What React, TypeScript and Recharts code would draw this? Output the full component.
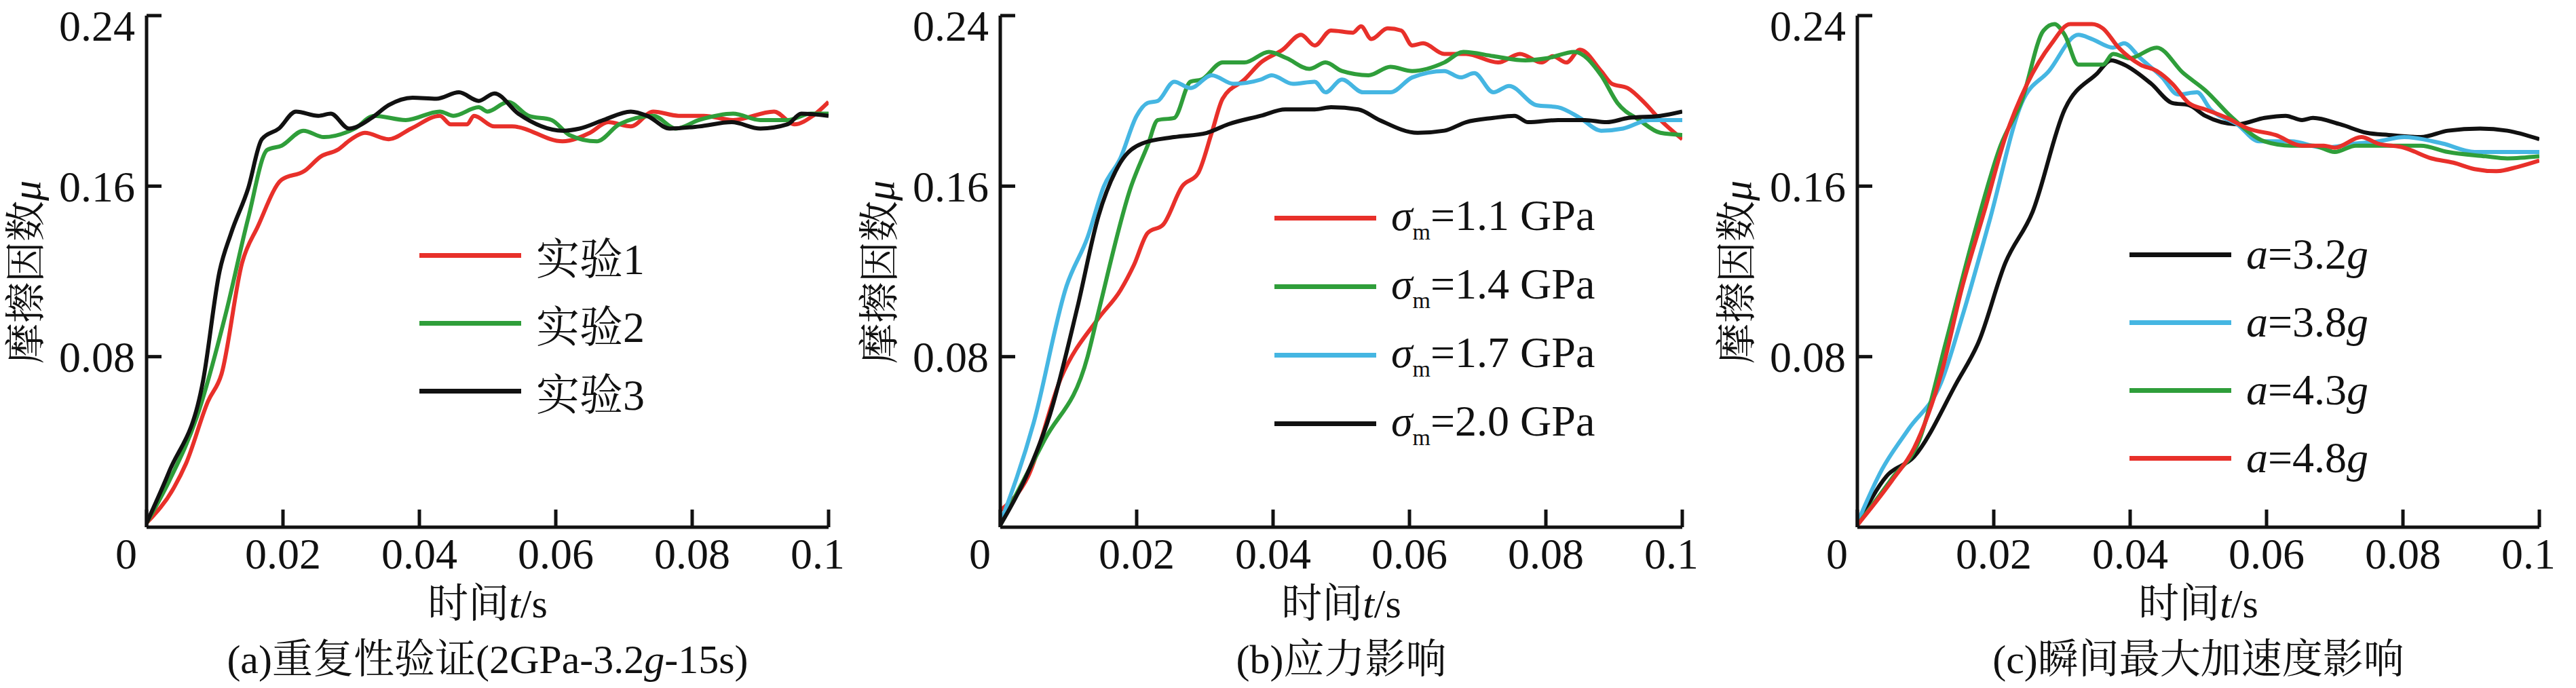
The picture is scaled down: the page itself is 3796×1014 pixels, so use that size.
import React from "react";
import { LineChart, Line, XAxis, YAxis } from "recharts";

type P = { t: number; mu: number };
const pts = (arr: number[][]): P[] => arr.map(([t, mu]) => ({ t, mu }));

const xTicks = [0, 0.02, 0.04, 0.06, 0.08, 0.1];
const yTicks = [0.08, 0.16, 0.24];

// (a) repeatability
const exp1 = pts([[0,0.002],[0.004,0.0185],[0.0058,0.03],[0.009,0.059],[0.011,0.072],[0.014,0.124],[0.0163,0.141],[0.0198,0.163],[0.0231,0.167],[0.0256,0.174],[0.028,0.177],[0.03,0.182],[0.032,0.185],[0.0355,0.182],[0.0388,0.187],[0.043,0.193],[0.0446,0.189],[0.047,0.189],[0.048,0.193],[0.051,0.188],[0.0536,0.188],[0.061,0.181],[0.065,0.185],[0.0677,0.19],[0.071,0.188],[0.0743,0.195],[0.078,0.193],[0.0817,0.193],[0.086,0.191],[0.092,0.195],[0.095,0.189],[0.0977,0.193],[0.1,0.1995]]);
const exp2 = pts([[0,0.002],[0.0033,0.0216],[0.0074,0.052],[0.0116,0.1],[0.0149,0.145],[0.0177,0.177],[0.0198,0.179],[0.023,0.186],[0.026,0.183],[0.0305,0.187],[0.0334,0.193],[0.038,0.191],[0.043,0.195],[0.045,0.193],[0.0487,0.197],[0.05,0.195],[0.053,0.1995],[0.056,0.193],[0.0594,0.191],[0.062,0.184],[0.066,0.181],[0.0693,0.189],[0.0743,0.193],[0.0776,0.187],[0.081,0.191],[0.086,0.194],[0.09,0.191],[0.094,0.191],[0.0974,0.194],[0.1,0.194]]);
const exp3 = pts([[0,0.002],[0.0033,0.026],[0.0083,0.069],[0.0107,0.12],[0.0124,0.138],[0.0149,0.159],[0.0169,0.182],[0.0194,0.187],[0.0219,0.195],[0.0252,0.193],[0.027,0.194],[0.0297,0.187],[0.033,0.192],[0.0355,0.198],[0.039,0.2015],[0.0425,0.201],[0.0458,0.204],[0.0487,0.2],[0.051,0.2035],[0.0545,0.194],[0.061,0.186],[0.0635,0.187],[0.067,0.191],[0.071,0.195],[0.0734,0.193],[0.0767,0.187],[0.081,0.188],[0.0858,0.19],[0.09,0.187],[0.094,0.189],[0.096,0.194],[0.1,0.193]]);

// (b) stress
const s11 = pts([[0,0.0078],[0.0041,0.024],[0.0089,0.07],[0.0144,0.098],[0.0176,0.111],[0.0196,0.123],[0.0216,0.138],[0.0239,0.142],[0.0267,0.16],[0.029,0.166],[0.031,0.185],[0.0326,0.201],[0.0358,0.21],[0.0382,0.218],[0.0414,0.224],[0.0441,0.231],[0.0461,0.226],[0.0485,0.233],[0.0517,0.232],[0.0529,0.235],[0.0544,0.229],[0.0568,0.234],[0.0588,0.233],[0.0604,0.226],[0.062,0.227],[0.0651,0.222],[0.0683,0.222],[0.073,0.218],[0.0762,0.222],[0.0794,0.218],[0.081,0.221],[0.083,0.218],[0.085,0.224],[0.0881,0.214],[0.0897,0.208],[0.092,0.206],[0.0945,0.199],[0.0968,0.191],[0.1,0.182]]);
const s14 = pts([[0,0.001],[0.0065,0.041],[0.0128,0.08],[0.0144,0.101],[0.0192,0.16],[0.0216,0.179],[0.0231,0.191],[0.0255,0.192],[0.0279,0.209],[0.0295,0.21],[0.0326,0.218],[0.0358,0.218],[0.0394,0.223],[0.042,0.22],[0.0453,0.215],[0.0477,0.218],[0.0501,0.214],[0.054,0.212],[0.0572,0.216],[0.0604,0.214],[0.0651,0.218],[0.0679,0.223],[0.0723,0.221],[0.077,0.219],[0.0802,0.22],[0.0842,0.223],[0.0881,0.212],[0.0905,0.199],[0.0937,0.191],[0.0968,0.185],[0.1,0.184]]);
const s17 = pts([[0,0.0016],[0.0049,0.049],[0.0097,0.113],[0.0128,0.136],[0.0152,0.16],[0.0176,0.173],[0.02,0.193],[0.0216,0.199],[0.0231,0.2],[0.0255,0.209],[0.0279,0.206],[0.031,0.212],[0.0342,0.208],[0.0382,0.21],[0.0398,0.212],[0.0429,0.208],[0.0461,0.209],[0.0477,0.204],[0.0501,0.21],[0.0532,0.204],[0.0572,0.204],[0.0604,0.211],[0.0651,0.214],[0.0675,0.211],[0.0695,0.213],[0.0723,0.204],[0.0746,0.207],[0.0786,0.198],[0.0818,0.197],[0.085,0.192],[0.0881,0.186],[0.0913,0.187],[0.0952,0.191],[0.1,0.191]]);
const s20 = pts([[0,0.001],[0.0041,0.026],[0.0073,0.053],[0.0113,0.103],[0.0144,0.146],[0.0176,0.171],[0.0208,0.18],[0.0255,0.183],[0.0303,0.185],[0.0334,0.189],[0.0382,0.193],[0.0418,0.196],[0.0461,0.196],[0.0485,0.197],[0.0525,0.196],[0.0556,0.191],[0.0612,0.185],[0.0651,0.186],[0.0683,0.19],[0.0723,0.192],[0.0754,0.193],[0.0774,0.19],[0.0818,0.191],[0.0857,0.191],[0.0889,0.19],[0.0921,0.192],[0.0968,0.193],[0.1,0.195]]);

// (c) peak acceleration
const a32 = pts([[0,0.001],[0.0043,0.024],[0.0083,0.033],[0.0146,0.068],[0.0178,0.087],[0.0217,0.124],[0.0257,0.148],[0.0304,0.196],[0.0352,0.213],[0.0372,0.219],[0.0391,0.217],[0.0431,0.208],[0.0462,0.199],[0.0486,0.198],[0.051,0.193],[0.0557,0.189],[0.0597,0.192],[0.0628,0.193],[0.0652,0.191],[0.0668,0.192],[0.0708,0.189],[0.0747,0.185],[0.0779,0.184],[0.0826,0.183],[0.0866,0.186],[0.0913,0.187],[0.0953,0.186],[0.1,0.182]]);
const a38 = pts([[0,0.002],[0.0036,0.027],[0.0075,0.046],[0.0123,0.068],[0.0154,0.099],[0.0194,0.144],[0.0241,0.199],[0.0281,0.214],[0.0324,0.231],[0.0344,0.229],[0.0375,0.225],[0.0391,0.227],[0.0415,0.22],[0.0447,0.211],[0.047,0.203],[0.0498,0.204],[0.0518,0.196],[0.0557,0.189],[0.0589,0.181],[0.0636,0.181],[0.0684,0.178],[0.0731,0.18],[0.0763,0.181],[0.0802,0.183],[0.0858,0.18],[0.0905,0.176],[0.0953,0.176],[0.1,0.176]]);
const a43 = pts([[0,0.001],[0.0051,0.023],[0.0091,0.041],[0.013,0.087],[0.017,0.136],[0.021,0.179],[0.0241,0.2],[0.0273,0.233],[0.0289,0.236],[0.0304,0.231],[0.0324,0.217],[0.036,0.217],[0.0375,0.222],[0.0399,0.22],[0.0439,0.225],[0.0478,0.213],[0.051,0.205],[0.055,0.192],[0.0597,0.181],[0.0636,0.179],[0.0668,0.179],[0.07,0.176],[0.0731,0.179],[0.0779,0.179],[0.0826,0.179],[0.0866,0.176],[0.0921,0.174],[0.0953,0.173],[0.1,0.174]]);
const a48 = pts([[0,0.001],[0.0051,0.022],[0.0083,0.037],[0.0123,0.072],[0.0154,0.113],[0.0186,0.148],[0.0217,0.183],[0.0249,0.208],[0.0285,0.227],[0.0312,0.236],[0.0344,0.236],[0.036,0.234],[0.0383,0.225],[0.0415,0.217],[0.0439,0.214],[0.0462,0.208],[0.0486,0.199],[0.051,0.196],[0.0542,0.192],[0.0573,0.187],[0.0613,0.184],[0.0652,0.179],[0.0684,0.179],[0.07,0.178],[0.0739,0.183],[0.0763,0.18],[0.0802,0.178],[0.0842,0.173],[0.0874,0.171],[0.0905,0.168],[0.0937,0.167],[0.0968,0.169],[0.1,0.172]]);

const RED = "#e8302a";
const GREEN = "#2f9e3a";
const BLUE = "#45b6e2";
const BLACK = "#111111";
const FONT = "'Liberation Serif', 'Noto Serif CJK SC', 'Noto Sans CJK SC', serif";

const fmtX = (v: number) => (v === 0 ? "0" : v.toFixed(2));

const renderXTick = (props: any) => {
  const { x, y, payload } = props;
  const v = Number(payload.value);
  return (
    <text x={v === 0 ? x - 30 : x} y={y} dy="0.71em" textAnchor="middle"
      fontFamily={FONT} fontSize={64} fill="#111">
      {fmtX(v)}
    </text>
  );
};

type Series = { data: P[]; color: string; label: React.ReactNode };

const Sigma = ({ v }: { v: string }) => (
  <span><i>σ</i><sub style={{ fontSize: 34 }}>m</sub>={v} GPa</span>
);
const Acc = ({ v }: { v: string }) => (
  <span><i>a</i>={v}<i>g</i></span>
);

function Panel(props: {
  left: number; series: Series[]; caption: React.ReactNode;
  legendX: number; legendY: number; legendGap: number;
}) {
  const { left, series, caption, legendX, legendY, legendGap } = props;
  const plotW = 1005;
  const yW = 150;
  return (
    <>
      <div style={{ position: "absolute", left: left - yW, top: 0 }}>
        <LineChart width={yW + plotW + 20} height={877}
          margin={{ top: 23, right: 20, left: 0, bottom: 0 }}>
          <XAxis type="number" dataKey="t" domain={[0, 0.1]} ticks={xTicks}
            allowDataOverflow height={100} tick={renderXTick}
            stroke="#111" strokeWidth={5} tickSize={-26} tickMargin={42} />
          <YAxis type="number" dataKey="mu" domain={[0, 0.24]} ticks={yTicks}
            width={yW} stroke="#111" strokeWidth={5} tickSize={-22} tickMargin={39}
            tickFormatter={(v: number) => v.toFixed(2)}
            tick={{ fontFamily: FONT, fontSize: 64, fill: "#111" }} />
          {series.map((s, i) => (
            <Line key={i} data={s.data} dataKey="mu" type="monotone" stroke={s.color}
              strokeWidth={6} dot={false} isAnimationActive={false} />
          ))}
        </LineChart>
      </div>
      <div style={{
        position: "absolute", left: left - 183 - 40, top: 401 - 40, width: 80, height: 80,
        display: "flex", alignItems: "center", justifyContent: "center",
      }}>
        <div style={{ transform: "rotate(-90deg)", whiteSpace: "nowrap", fontFamily: FONT, fontSize: 60, color: "#111" }}>
          摩擦因数<i>μ</i>
        </div>
      </div>
      <div style={{ position: "absolute", left: left, width: plotW, top: 855, lineHeight: "70px", textAlign: "center", fontFamily: FONT, fontSize: 60, color: "#111", whiteSpace: "nowrap" }}>
        时间<i>t</i>/s
      </div>
      <div style={{ position: "absolute", left: left - 200, width: plotW + 400, top: 937, lineHeight: "70px", textAlign: "center", fontFamily: FONT, fontSize: 60, color: "#111", whiteSpace: "nowrap" }}>
        {caption}
      </div>
      {series.map((s, i) => (
        <div key={i} style={{ position: "absolute", left: legendX, top: legendY + i * legendGap - 40, height: 80, display: "flex", alignItems: "center", whiteSpace: "nowrap" }}>
          <div style={{ width: 150, height: 7, background: s.color, marginRight: 22 }} />
          <div style={{ fontFamily: FONT, fontSize: 64, color: "#111" }}>{s.label}</div>
        </div>
      ))}
    </>
  );
}

export default function App() {
  return (
    <div style={{ position: "absolute", left: 0, top: 0, width: 3796, height: 1014, background: "#fff", overflow: "hidden" }}>
      <Panel left={216} legendX={618} legendY={376} legendGap={100}
        caption={<span>(a)重复性验证(2GPa-3.2<i>g</i>-15s)</span>}
        series={[
          { data: exp1, color: RED, label: "实验1" },
          { data: exp2, color: GREEN, label: "实验2" },
          { data: exp3, color: BLACK, label: "实验3" },
        ]} />
      <Panel left={1474} legendX={1878} legendY={321} legendGap={101}
        caption="(b)应力影响"
        series={[
          { data: s11, color: RED, label: <Sigma v="1.1" /> },
          { data: s14, color: GREEN, label: <Sigma v="1.4" /> },
          { data: s17, color: BLUE, label: <Sigma v="1.7" /> },
          { data: s20, color: BLACK, label: <Sigma v="2.0" /> },
        ]} />
      <Panel left={2737} legendX={3138} legendY={375} legendGap={100}
        caption="(c)瞬间最大加速度影响"
        series={[
          { data: a32, color: BLACK, label: <Acc v="3.2" /> },
          { data: a38, color: BLUE, label: <Acc v="3.8" /> },
          { data: a43, color: GREEN, label: <Acc v="4.3" /> },
          { data: a48, color: RED, label: <Acc v="4.8" /> },
        ]} />
    </div>
  );
}
